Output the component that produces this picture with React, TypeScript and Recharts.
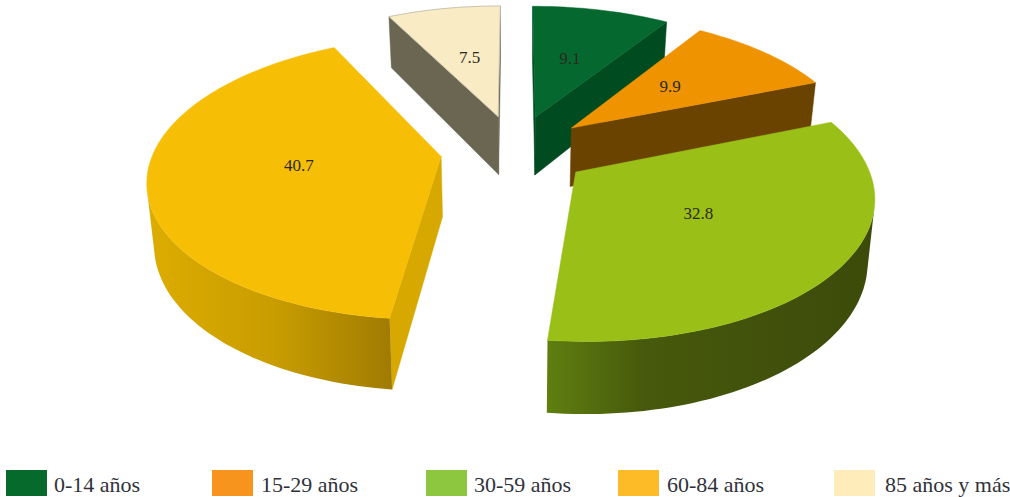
import { Cell, Legend, Pie, PieChart } from "recharts";

const ageGroups = ["0-14 años", "15-29 años", "30-59 años", "60-84 años", "85 años y más"];
const shares = [9.1, 9.9, 32.8, 40.7, 7.5];

const topColors = ["#05692f", "#ef9300", "#9abf17", "#f6bf06", "#f9ebc4"];
const faceColors = ["#004b20", "#6a4300", "#46590c", "#d6a800", "#6b6651"];
const wallColors = ["#004b20", "#6a4300", "url(#wallGreen)", "url(#wallYellow)", "#6b6651"];
const legendColors = ["#056a2c", "#f7941e", "#8dc63f", "#fdbc27", "#feedbb"];
const legendLeft = [6, 212, 426, 618, 834];
const legendTextLeft = [54, 261, 474, 667, 885];

const WIDTH = 1010;
const HEIGHT = 497;
const CX = 515;
const CY = 150;
const RADIUS = 287;
const TILT = 0.476; // vertical squash of the disc
const PERSPECTIVE = 0.15;
const EXPLODE = 0.26;
const THICKNESS = 60;
const BOTTOM_SHRINK = 0.98;

const chartData = ageGroups.map((name, i) => ({ name, value: shares[i] }));

type Pt = [number, number];

// maps a point of the disc plane (unit radius, v towards the viewer) to the screen
function project(cx: number, cy: number, r: number, u: number, v: number, bottom: boolean): Pt {
  const s = 1 / (1 - PERSPECTIVE * v);
  const x = cx + r * u * s;
  const y = cy + r * TILT * v * s;
  if (!bottom) return [x, y];
  return [cx + (x - cx) * BOTTOM_SHRINK, y + THICKNESS * s];
}

const toRad = (deg: number) => (deg * Math.PI) / 180;

const pathOf = (pts: Pt[]) =>
  "M" + pts.map((p) => `${p[0].toFixed(1)},${p[1].toFixed(1)}`).join("L") + "Z";

function quadArea(pts: Pt[]) {
  let sum = 0;
  pts.forEach((p, i) => {
    const q = pts[(i + 1) % pts.length];
    sum += p[0] * q[1] - q[0] * p[1];
  });
  return sum;
}

// Recharts angles run counter-clockwise from 3 o'clock, here they are clockwise from the top
function Slice3D(props: any) {
  const { cx, cy, outerRadius, startAngle, endAngle, midAngle, index } = props;
  const from = 90 - startAngle;
  const to = 90 - endAngle;
  const mid = 90 - midAngle;
  const offU = EXPLODE * Math.sin(toRad(mid));
  const offV = -EXPLODE * Math.cos(toRad(mid));

  const at = (deg: number, rad: number, bottom: boolean) =>
    project(
      cx,
      cy,
      outerRadius,
      offU + rad * Math.sin(toRad(deg)),
      offV - rad * Math.cos(toRad(deg)),
      bottom
    );

  const steps = Math.max(2, Math.ceil((to - from) / 1.5));
  const angles = Array.from({ length: steps + 1 }, (_, i) => from + ((to - from) * i) / steps);

  const top = at(0, 0, false);
  const rim = angles.map((a) => at(a, 1, false));
  const topPath = pathOf([top, ...rim]);

  // outer wall, only the stretch that faces the viewer
  const frontTop: Pt[] = [];
  const frontBottom: Pt[] = [];
  angles.slice(0, -1).forEach((a, i) => {
    const b = angles[i + 1];
    const quad = [at(a, 1, false), at(b, 1, false), at(b, 1, true), at(a, 1, true)];
    if (quadArea(quad) < 0) {
      if (frontTop.length === 0) {
        frontTop.push(quad[0]);
        frontBottom.push(quad[3]);
      }
      frontTop.push(quad[1]);
      frontBottom.push(quad[2]);
    }
  });

  const startFace = [top, at(from, 1, false), at(from, 1, true), at(0, 0, true)];
  const endFace = [top, at(to, 1, false), at(to, 1, true), at(0, 0, true)];
  const face = faceColors[index];

  return (
    <g>
      {quadArea(startFace) < 0 && <path d={pathOf(startFace)} fill={face} stroke={face} strokeWidth={0.5} />}
      {quadArea(endFace) > 0 && <path d={pathOf(endFace)} fill={face} stroke={face} strokeWidth={0.5} />}
      {frontTop.length > 0 && (
        <path d={pathOf([...frontTop, ...frontBottom.reverse()])} fill={wallColors[index]} />
      )}
      <path
        d={topPath}
        fill={topColors[index]}
        stroke={index === 4 ? "#c9c3ae" : topColors[index]}
        strokeWidth={index === 4 ? 1 : 0.5}
      />
    </g>
  );
}

function SliceLabel(props: any) {
  const { cx, cy, outerRadius, midAngle, value } = props;
  const mid = 90 - midAngle;
  const reach = 0.75;
  const [x, y] = project(
    cx,
    cy,
    outerRadius,
    reach * Math.sin(toRad(mid)),
    -reach * Math.cos(toRad(mid)),
    false
  );
  return (
    <text
      x={x}
      y={y - 3}
      textAnchor="middle"
      dominantBaseline="central"
      fontFamily="'Liberation Serif', serif"
      fontSize={17}
      fill="#2a2a22"
    >
      {value.toFixed(1)}
    </text>
  );
}

function LegendRow({ payload }: any) {
  return (
    <div style={{ position: "relative", width: WIDTH, height: HEIGHT }}>
      {(payload ?? []).map((entry: any, i: number) => (
        <div key={entry.value}>
          <div
            style={{
              position: "absolute",
              left: legendLeft[i],
              top: 470,
              width: 41,
              height: 26,
              background: legendColors[i],
            }}
          />
          <span
            style={{
              position: "absolute",
              left: legendTextLeft[i],
              top: 471,
              lineHeight: "28px",
              fontFamily: "'Liberation Serif', serif",
              fontSize: 22,
              color: "#30323a",
              whiteSpace: "nowrap",
            }}
          >
            {entry.value}
          </span>
        </div>
      ))}
    </div>
  );
}

export default function App() {
  return (
    <div style={{ position: "absolute", left: 0, top: 0, width: WIDTH, height: HEIGHT, background: "#fff" }}>
      <PieChart width={WIDTH} height={HEIGHT} margin={{ top: 0, right: 0, bottom: 0, left: 0 }}>
        <defs>
          <linearGradient id="wallYellow" gradientUnits="userSpaceOnUse" x1="150" y1="0" x2="396" y2="0">
            <stop offset="0%" stopColor="#dcac00" />
            <stop offset="50%" stopColor="#c99d00" />
            <stop offset="100%" stopColor="#9f7a02" />
          </linearGradient>
          <linearGradient id="wallGreen" gradientUnits="userSpaceOnUse" x1="547" y1="0" x2="870" y2="0">
            <stop offset="0%" stopColor="#5f7f10" />
            <stop offset="30%" stopColor="#47590c" />
            <stop offset="100%" stopColor="#3d4b0a" />
          </linearGradient>
        </defs>
        <Pie
          data={chartData}
          dataKey="value"
          nameKey="name"
          cx={CX}
          cy={CY}
          outerRadius={RADIUS}
          startAngle={90}
          endAngle={-270}
          stroke="none"
          shape={Slice3D}
          label={SliceLabel}
          labelLine={false}
          isAnimationActive={false}
        >
          {chartData.map((d, i) => (
            <Cell key={d.name} fill={legendColors[i]} />
          ))}
        </Pie>
        <Legend
          content={LegendRow}
          wrapperStyle={{ position: "absolute", left: 0, top: 0, width: WIDTH, height: HEIGHT, pointerEvents: "none" }}
        />
      </PieChart>
    </div>
  );
}
